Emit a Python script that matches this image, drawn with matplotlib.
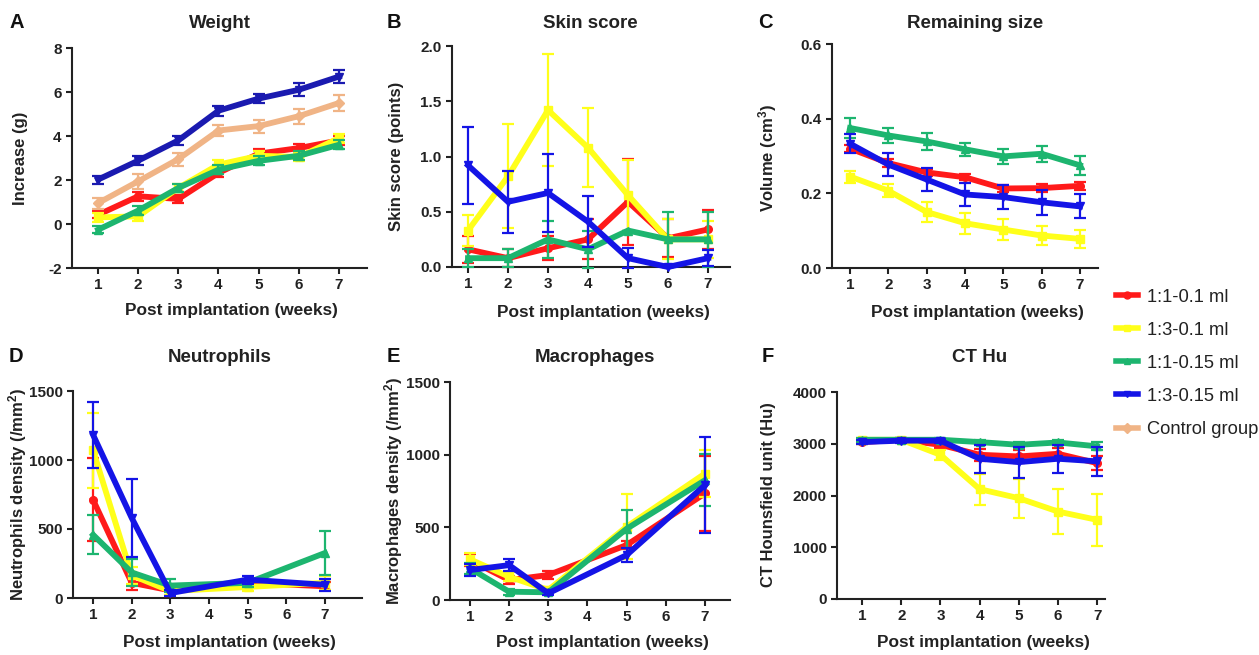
import numpy as np
import matplotlib
matplotlib.use("Agg")
import matplotlib.pyplot as plt
from matplotlib.lines import Line2D

plt.rcParams['font.family'] = ['Liberation Sans', 'DejaVu Sans']
plt.rcParams['font.weight'] = 'bold'
plt.rcParams['axes.unicode_minus'] = False
plt.rcParams['mathtext.fontset'] = 'custom'
plt.rcParams['mathtext.rm'] = 'Liberation Sans:bold'
plt.rcParams['mathtext.bf'] = 'Liberation Sans:bold'
plt.rcParams['mathtext.it'] = 'Liberation Sans:bold'

W, H = 1259, 655

groups = ['1:1-0.1 ml', '1:3-0.1 ml', '1:1-0.15 ml', '1:3-0.15 ml', 'Control group']
colors = ['#ff1a1a', '#ffff1a', '#1db56f', '#1414e6', '#f0b486']
markers = ['o', 's', '^', 'v', 'D']

weeks = [1, 2, 3, 4, 5, 6, 7]
weeks_hist = [1, 2, 3, 5, 7]

# A: Weight
weight_mean = {
    '1:1-0.1 ml': [0.42, 1.26, 1.14, 2.32, 3.2, 3.45, 3.8],
    '1:3-0.1 ml': [0.3, 0.35, 1.64, 2.7, 3.1, 3.05, 3.9],
    '1:1-0.15 ml': [-0.26, 0.61, 1.64, 2.47, 2.87, 3.1, 3.6],
    '1:3-0.15 ml': [2.02, 2.88, 3.8, 5.15, 5.7, 6.1, 6.7],
    'Control group': [0.95, 1.94, 2.95, 4.25, 4.45, 4.9, 5.5],
}
weight_err = {
    '1:1-0.1 ml': [0.15, 0.2, 0.2, 0.2, 0.2, 0.2, 0.2],
    '1:3-0.1 ml': [0.2, 0.2, 0.2, 0.2, 0.2, 0.2, 0.2],
    '1:1-0.15 ml': [0.15, 0.2, 0.2, 0.2, 0.2, 0.2, 0.2],
    '1:3-0.15 ml': [0.18, 0.2, 0.22, 0.22, 0.2, 0.3, 0.3],
    'Control group': [0.25, 0.35, 0.3, 0.25, 0.3, 0.35, 0.35],
}

# B: Skin score
skin_mean = {
    '1:1-0.1 ml': [0.16, 0.08, 0.17, 0.25, 0.59, 0.26, 0.34],
    '1:3-0.1 ml': [0.33, 0.82, 1.42, 1.08, 0.65, 0.25, 0.25],
    '1:1-0.15 ml': [0.08, 0.08, 0.25, 0.16, 0.33, 0.25, 0.25],
    '1:3-0.15 ml': [0.92, 0.59, 0.67, 0.41, 0.08, 0.0, 0.08],
}
skin_err = {
    '1:1-0.1 ml': [0.12, 0.08, 0.11, 0.18, 0.39, 0.17, 0.18],
    '1:3-0.1 ml': [0.14, 0.47, 0.51, 0.36, 0.32, 0.18, 0.17],
    '1:1-0.15 ml': [0.08, 0.08, 0.17, 0.17, 0.0, 0.25, 0.25],
    '1:3-0.15 ml': [0.35, 0.28, 0.35, 0.23, 0.09, 0.0, 0.07],
}

# C: Remaining size
size_mean = {
    '1:1-0.1 ml': [0.32, 0.281, 0.256, 0.243, 0.213, 0.214, 0.22],
    '1:3-0.1 ml': [0.245, 0.207, 0.15, 0.12, 0.103, 0.087, 0.078],
    '1:1-0.15 ml': [0.375, 0.355, 0.339, 0.318, 0.299, 0.306, 0.275],
    '1:3-0.15 ml': [0.333, 0.277, 0.237, 0.197, 0.19, 0.176, 0.165],
}
size_err = {
    '1:1-0.1 ml': [0.01, 0.01, 0.01, 0.008, 0.01, 0.01, 0.01],
    '1:3-0.1 ml': [0.016, 0.018, 0.028, 0.028, 0.028, 0.026, 0.024],
    '1:1-0.15 ml': [0.027, 0.02, 0.022, 0.018, 0.02, 0.022, 0.025],
    '1:3-0.15 ml': [0.025, 0.03, 0.03, 0.032, 0.032, 0.033, 0.032],
}

# D: Neutrophils (weeks 1,2,3,5,7)
neut_mean = {
    '1:1-0.1 ml': [711, 110, 55, 110, 85],
    '1:3-0.1 ml': [1070, 165, 50, 80, 110],
    '1:1-0.15 ml': [458, 185, 90, 110, 326],
    '1:3-0.15 ml': [1182, 580, 36, 133, 96],
}
neut_err = {
    '1:1-0.1 ml': [300, 50, 40, 30, 30],
    '1:3-0.1 ml': [270, 60, 30, 30, 50],
    '1:1-0.15 ml': [140, 100, 50, 30, 160],
    '1:3-0.15 ml': [240, 280, 20, 30, 45],
}

# E: Macrophages (weeks 1,2,3,5,7)
macro_mean = {
    '1:1-0.1 ml': [275, 137, 172, 378, 733],
    '1:3-0.1 ml': [280, 160, 69, 504, 870],
    '1:1-0.15 ml': [218, 57, 53, 490, 824],
    '1:3-0.15 ml': [206, 240, 46, 309, 790],
}
macro_err = {
    '1:1-0.1 ml': [40, 30, 30, 30, 260],
    '1:3-0.1 ml': [40, 30, 20, 225, 160],
    '1:1-0.15 ml': [40, 20, 15, 130, 180],
    '1:3-0.15 ml': [40, 40, 15, 50, 330],
}

# F: CT Hu
ct_mean = {
    '1:1-0.1 ml': [3032, 3077, 2980, 2787, 2755, 2806, 2626],
    '1:3-0.1 ml': [3077, 3077, 2787, 2123, 1948, 1690, 1529],
    '1:1-0.15 ml': [3077, 3077, 3077, 3032, 2980, 3025, 2950],
    '1:3-0.15 ml': [3032, 3060, 3060, 2710, 2645, 2710, 2660],
}
ct_err = {
    '1:1-0.1 ml': [40, 40, 60, 120, 120, 110, 130],
    '1:3-0.1 ml': [40, 40, 100, 300, 380, 430, 500],
    '1:1-0.15 ml': [40, 40, 40, 50, 60, 50, 80],
    '1:3-0.15 ml': [40, 40, 40, 270, 300, 270, 280],
}

fig = plt.figure(figsize=(W / 100, H / 100), dpi=100)


def px_axes(l, r, t, b):
    return fig.add_axes([l / W, 1 - b / H, (r - l) / W, (b - t) / H])


def ftext(x, y, s, **kw):
    fig.text(x / W, 1 - y / H, s, **kw)


def panel(box, xlim, ylim, yticks, xs, means, errs, title, letter, title_xy, letter_xy,
          ylabel, ylabel_xy, xlabel_y, blue=None):
    l, r, t, b = box
    ax = px_axes(l, r, t, b)
    for i, g in enumerate(groups):
        if g not in means:
            continue
        c = colors[i]
        if g == '1:3-0.15 ml' and blue is not None:
            c = blue
        ax.errorbar(xs, means[g], yerr=errs[g], color=c, lw=4.2, marker=markers[i],
                    ms=5.5, mec=c, mfc=c, elinewidth=1.6, capsize=4, capthick=1.6,
                    clip_on=False, zorder=3 + i)
    ax.set_xlim(*xlim)
    ax.set_ylim(*ylim)
    ax.set_yticks(yticks)
    ax.set_xticks(weeks)
    ax.set_xticklabels([str(w) for w in weeks])
    if isinstance(yticks[0], float):
        ax.set_yticklabels(['%.1f' % v for v in yticks])
    else:
        ax.set_yticklabels([str(v) for v in yticks])
    for s in ['top', 'right']:
        ax.spines[s].set_visible(False)
    for s in ['left', 'bottom']:
        ax.spines[s].set_linewidth(1.5)
        ax.spines[s].set_color('#222222')
    ax.tick_params(width=1.5, length=4.5, color='#222222', pad=3)
    for lab in ax.get_xticklabels() + ax.get_yticklabels():
        lab.set_fontweight('bold')
        lab.set_fontsize(11)
        lab.set_color('#222222')
    ftext(title_xy[0], title_xy[1], title, ha='center', va='center', fontsize=13.5,
          fontweight='bold', color='#222222')
    ftext(letter_xy[0], letter_xy[1], letter, ha='left', va='center', fontsize=14.5,
          fontweight='bold', color='#111111')
    ftext(ylabel_xy[0], ylabel_xy[1], ylabel, ha='center', va='center', rotation=90,
          fontsize=12, fontweight='bold', color='#222222')
    ftext((l + r) / 2 + 12, xlabel_y, 'Post implantation (weeks)', ha='center', va='center',
          fontsize=12.4, fontweight='bold', color='#222222')
    return ax


panel((72, 367, 48, 268), (0.35, 7.7), (-2, 8), [-2, 0, 2, 4, 6, 8], weeks,
      weight_mean, weight_err, 'Weight', 'A', (220, 24), (9, 22),
      'Increase (g)', (21, 158), 311, blue='#1a1ab0')
panel((452, 730, 46, 267), (0.6, 7.55), (0, 2.0), [0.0, 0.5, 1.0, 1.5, 2.0], weeks,
      skin_mean, skin_err, 'Skin score', 'B', (590, 24), (387, 22),
      'Skin score (points)', (397, 156), 313)
panel((832, 1098, 44, 268), (0.53, 7.47), (0, 0.6), [0.0, 0.2, 0.4, 0.6], weeks,
      size_mean, size_err, 'Remaining size', 'C', (975, 24), (758, 22),
      'Volume (cm$^3$)', (768, 158), 312)
panel((73, 362, 391, 598), (0.48, 7.96), (0, 1500), [0, 500, 1000, 1500], weeks_hist,
      neut_mean, neut_err, 'Neutrophils', 'D', (220, 357), (9, 357),
      'Neutrophils density (/mm$^2$)', (18, 494), 643)
panel((450, 730, 382, 600), (0.49, 7.64), (0, 1500), [0, 500, 1000, 1500], weeks_hist,
      macro_mean, macro_err, 'Macrophages', 'E', (595, 357), (387, 357),
      'Macrophages density (/mm$^2$)', (394, 491), 643)
panel((837, 1105, 392, 599), (0.36, 7.2), (0, 4000), [0, 1000, 2000, 3000, 4000], weeks,
      ct_mean, ct_err, 'CT Hu', 'F', (980, 357), (762, 357),
      'CT Hounsfield unit (Hu)', (769, 495), 643)

handles = [Line2D([0], [0], color=colors[i], lw=4, marker=markers[i], ms=5)
           for i in range(len(groups))]
leg = fig.legend(handles, groups, loc='upper left', bbox_to_anchor=(1110 / W, 1 - 283 / H),
                 frameon=False, handlelength=1.25, handletextpad=0.45, labelspacing=0.88,
                 borderaxespad=0, borderpad=0.3,
                 prop={'family': 'Liberation Sans', 'weight': 'normal', 'size': 13.2})
for t in leg.get_texts():
    t.set_color('#222222')

fig.savefig('out.png', dpi=100)
